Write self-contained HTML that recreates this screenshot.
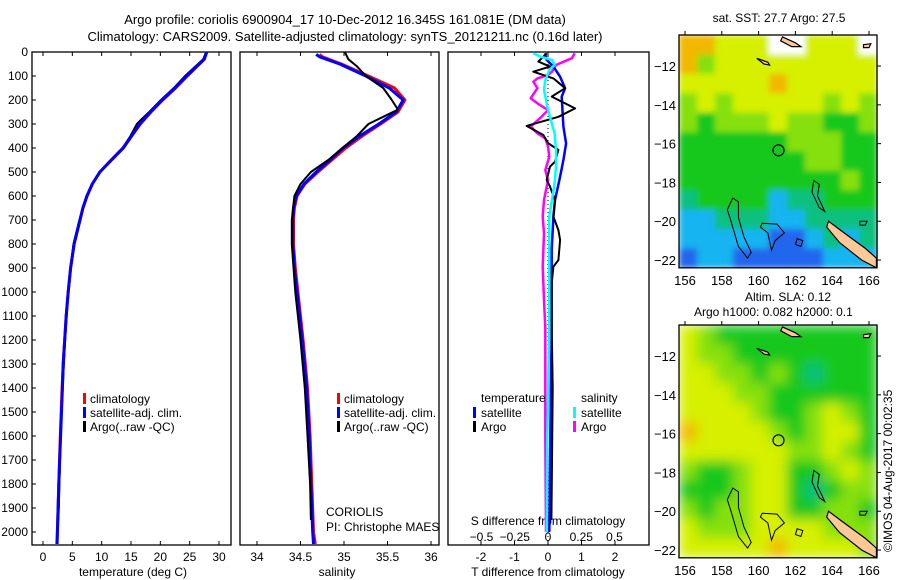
<!DOCTYPE html>
<html><head><meta charset="utf-8"><style>
body{margin:0;background:#fff;}
svg{display:block;font-family:"Liberation Sans",sans-serif;font-size:12px;}
</style></head><body>
<svg id="c" width="900" height="580" viewBox="0 0 900 580">
<defs>
<filter id="blurS" x="0" y="0" width="1" height="1"><feGaussianBlur stdDeviation="3" edgeMode="duplicate"/></filter>
<filter id="blurL" x="0" y="0" width="1" height="1"><feGaussianBlur stdDeviation="6" edgeMode="duplicate"/></filter>
</defs>
<text x="345" y="24" text-anchor="middle" font-size="13">Argo profile: coriolis 6900904_17 10-Dec-2012 16.345S 161.081E (DM data)</text>
<text x="345" y="41" text-anchor="middle" font-size="13">Climatology: CARS2009. Satellite-adjusted climatology: synTS_20121211.nc (0.16d later)</text>
<text x="779" y="22" text-anchor="middle">sat. SST: 27.7 Argo: 27.5</text>
<text x="745" y="301">Altim. SLA: 0.12</text>
<text x="694" y="316">Argo h1000: 0.082 h2000: 0.1</text>
<text transform="translate(892,552) rotate(-90)">©IMOS 04-Aug-2017 00:02:35</text>
</svg>
<script>
// ---------- data ----------
const tDepth=[0,30,100,150,200,250,300,350,400,450,500,550,600,650,700,800,900,1000,1100,1200,1300,1400,1600,1800,2000,2050];
const tClim=[27.9,27.5,24.6,22.6,20.4,18.4,16.6,15.1,13.6,11.6,9.7,8.4,7.5,6.8,6.3,5.3,4.7,4.3,3.95,3.7,3.45,3.25,2.95,2.7,2.45,2.35];
const tSat=[27.9,27.5,24.5,22.5,20.3,18.3,16.5,15.1,13.7,11.7,9.7,8.4,7.5,6.8,6.3,5.3,4.7,4.3,3.95,3.7,3.45,3.3,3.0,2.7,2.45,2.4];
const tArgoDepth=[0,30,100,150,200,250,280,300,350,400,450,500,550,600,700,800,1000,1200,1400,1600,1800,1900,1950];
const tArgo=[27.8,27.3,24.2,22.3,20.1,18.1,16.8,16.0,14.9,13.6,11.6,9.6,8.4,7.4,6.2,5.2,4.3,3.75,3.35,3.0,2.8,2.7,2.6];
const sDepth=[10,20,50,100,150,200,250,300,350,400,450,500,550,600,650,700,800,900,1000,1200,1400,1600,1800,2000,2050];
const sClim=[34.72,34.75,34.97,35.28,35.58,35.70,35.62,35.42,35.21,35.02,34.86,34.70,34.55,34.46,34.43,34.42,34.42,34.44,34.47,34.53,34.58,34.61,34.63,34.65,34.67];
const sSat=[34.68,34.72,34.95,35.25,35.52,35.68,35.60,35.40,35.18,34.99,34.84,34.68,34.54,34.45,34.42,34.41,34.41,34.43,34.46,34.52,34.57,34.60,34.62,34.64,34.65];
const sArgoDepth=[0,30,60,100,150,200,240,270,300,350,400,450,500,550,600,700,800,1000,1200,1400,1600,1800,1950];
const sArgo=[35.01,35.05,35.15,35.25,35.45,35.55,35.62,35.45,35.28,35.15,34.98,34.82,34.62,34.50,34.43,34.40,34.40,34.44,34.50,34.55,34.58,34.61,34.62];
// difference panel
const dTsatDepth=[6,33,61,103,151,186,311,381,450,519,617,686,825,1151,1600,2000];
const dTsat=[-0.09,-0.04,0.16,0.36,0.51,0.41,0.46,0.54,0.46,0.36,0.21,0.16,0.11,0.11,0.07,0.04];
const dTargoDepth=[6,40,61,82,110,151,186,235,270,308,346,381,408,457,478,533,561,617,686,742,783,867,894,964,1144,1400,1700,1950];
const dTargo=[-0.04,-0.29,0.06,-0.44,0.16,0.51,0.11,0.81,0.31,-0.64,-0.14,0.01,0.31,0.21,0.06,-0.04,0.06,0.21,0.16,0.31,0.36,0.31,0.16,0.11,0.11,0.14,0.12,0.1];
const dSsatDepth=[6,19,33,54,75,117,158,242,339,408,478,547,686,894,1151,1600,2000];
const dSsat=[-0.11,-0.06,0.03,0.05,0.01,-0.02,-0.03,0,0.05,0.06,0.06,0.05,0.01,0.01,0.01,-0.005,-0.01];
const dSargoDepth=[6,26,54,82,96,110,124,151,193,214,242,276,311,339,360,394,436,492,533,617,686,756,894,1033,1151,1600,2000];
const dSargo=[0.20,0.18,0.06,0.03,0,-0.08,-0.11,-0.08,-0.13,-0.08,0,-0.06,-0.13,-0.08,-0.02,0,0.01,-0.02,0,-0.03,-0.04,-0.03,-0.04,-0.03,-0.02,-0.02,-0.015];
const depthTicks=[0,100,200,300,400,500,600,700,800,900,1000,1100,1200,1300,1400,1500,1600,1700,1800,1900,2000];
const tTicks=[0,5,10,15,20,25,30];
const sTicks=[34,34.5,35,35.5,36];
const dTTicks=[-2,-1,0,1,2];
const dSTicks=[-0.5,-0.25,0,0.25,0.5];
const lonTicks=[156,158,160,162,164,166];
const latTicks=[-12,-14,-16,-18,-20,-22];
// map grids (color level 0 blue .. 6 orange, -1 = no data)
const sstGrid=[
[6,6,5,5,5,-1,-1,5,5,5,-1],
[6,4,5,5,5,5,5,5,5,5,5],
[5,5,5,5,5,6,5,5,5,5,5],
[4,5,4,5,5,5,5,5,4,5,4],
[4,3,4,4,4,5,4,4,3,3,4],
[3,3,3,3,3,3,4,4,4,3,3],
[3,3,3,3,3,3,3,4,4,3,3],
[3,3,3,3,3,3,3,3,3,4,3],
[2,3,3,3,3,1,2,2,3,3,3],
[1,1,2,2,2,1,1,2,2,2,2],
[1,1,1,1,1,0,0,1,2,1,2],
[0,1,1,0,0,0,0,0,1,1,1]];
const slaGrid=[
[5,4,3,3,3,3,3,3,3,3,3],
[5,4,4,3,3,3,3,3,3,3,3],
[5,5,4,4,3,4,3,2,3,3,3],
[5,5,5,4,4,3,3,3,3,3,3],
[5,5,5,5,4,3,3,4,5,4,3],
[6,5,5,5,5,4,3,4,5,5,3],
[5,5,5,5,5,5,4,4,5,4,3],
[4,3,3,4,5,5,3,3,4,5,4],
[3,3,3,4,5,5,3,2,3,4,4],
[4,3,4,4,5,5,3,3,4,4,3],
[5,4,4,4,5,5,5,5,4,4,4],
[5,5,5,5,5,6,5,5,5,5,4]];
const palette=['#2266ee','#18b4f0','#10c080','#12c81a','#86e010','#d6f000','#f2b800'];
const argoLon=161.081, argoLat=-16.345;

// ---------- helpers ----------
const NS='http://www.w3.org/2000/svg';
const svg=document.getElementById('c');
function mk(tag,attrs,parent){const e=document.createElementNS(NS,tag);for(const k in attrs)e.setAttribute(k,attrs[k]);(parent||svg).appendChild(e);return e;}
const yD=d=>52+d*0.24;
const xT=v=>43+v*5.867;
const xS=v=>257+(v-34)*87;
const xDT=v=>548+v*33.5;
const xDS=v=>548+v*133;
function line(xs,ds,fx,color,w,name){
  const pts=xs.map((v,i)=>fx(v).toFixed(1)+','+yD(ds[i]).toFixed(1)).join(' ');
  const p=mk('polyline',{points:pts,fill:'none',stroke:color,'stroke-width':w,'stroke-linejoin':'round'});
  
  
}
function frame(x0,x1,name){
  const r=mk('rect',{x:x0,y:52,width:x1-x0,height:493,fill:'none',stroke:'#000','stroke-width':1.3});
  
  
}
function txt(x,y,s,anchor,name,size,parent){
  const t=mk('text',{x:x,y:y,'text-anchor':anchor||'start'},parent);
  if(size)t.setAttribute('font-size',size);
  t.textContent=s;
  
  
  return t;
}

// ---------- panel 1: temperature ----------
frame(32,231,'temperature-panel');
depthTicks.forEach(d=>{
  mk('line',{x1:32,x2:36,y1:yD(d),y2:yD(d),stroke:'#000'});
  txt(28,yD(d)+4,String(d),'end','depth-tick-label');
});
tTicks.forEach(v=>{
  mk('line',{x1:xT(v),x2:xT(v),y1:545,y2:541,stroke:'#000'});
  mk('line',{x1:xT(v),x2:xT(v),y1:52,y2:56,stroke:'#000'});
  txt(xT(v),561,String(v),'middle','temperature-tick-label');
});
txt(133,576,'temperature (deg C)','middle','temperature-axis-title');
line(tClim,tDepth,xT,'#ff0000',3,'temperature-climatology-line');
line(tArgo,tArgoDepth,xT,'#000000',2,'temperature-argo-line');
line(tSat,tDepth,xT,'#0000ff',3,'temperature-satellite-line');
[['#ff0000','climatology'],['#0000ff','satellite-adj. clim.'],['#000000','Argo(..raw -QC)']].forEach((e,i)=>{
  mk('rect',{x:83,y:393+i*14,width:3,height:11,fill:e[0]});
  txt(90,403+i*14,e[1],'start','temperature-legend-entry');
});

// ---------- panel 2: salinity ----------
frame(240,439,'salinity-panel');
sTicks.forEach(v=>{
  mk('line',{x1:xS(v),x2:xS(v),y1:545,y2:541,stroke:'#000'});
  mk('line',{x1:xS(v),x2:xS(v),y1:52,y2:56,stroke:'#000'});
  txt(xS(v),561,String(v),'middle','salinity-tick-label');
});
txt(337,576,'salinity','middle','salinity-axis-title');
line(sClim,sDepth,xS,'#ff0000',3,'salinity-climatology-line');
line(sSat,sDepth,xS,'#0000ff',3,'salinity-satellite-line');
line(sArgo,sArgoDepth,xS,'#000000',2,'salinity-argo-line');
[['#ff0000','climatology'],['#0000ff','satellite-adj. clim.'],['#000000','Argo(..raw -QC)']].forEach((e,i)=>{
  mk('rect',{x:337,y:393+i*14,width:3,height:11,fill:e[0]});
  txt(344,403+i*14,e[1],'start','salinity-legend-entry');
});
txt(326,516,'CORIOLIS','start','data-centre-label');
txt(326,531,'PI: Christophe MAES','start','pi-label');

// ---------- panel 3: differences ----------
frame(448,649,'difference-panel');
mk('line',{x1:548,x2:548,y1:52,y2:545,stroke:'#000','stroke-dasharray':'1,3'});
dTTicks.forEach(v=>{
  mk('line',{x1:xDT(v),x2:xDT(v),y1:545,y2:541,stroke:'#000'});
  mk('line',{x1:xDT(v),x2:xDT(v),y1:52,y2:56,stroke:'#000'});
  txt(xDT(v),561,String(v),'middle','t-difference-tick-label');
});
dSTicks.forEach(v=>{
  txt(xDS(v),541,String(v).replace('-','\u2212'),'middle','s-difference-tick-label');
});
txt(548,525,'S difference from climatology','middle','s-difference-axis-title');
txt(548,576,'T difference from climatology','middle','t-difference-axis-title');
line(dSargo,dSargoDepth,xDS,'#ff00ff',2.5,'salinity-argo-difference-line');
line(dTsat,dTsatDepth,xDT,'#0000ff',2.5,'temperature-satellite-difference-line');
line(dTargo,dTargoDepth,xDT,'#000000',2,'temperature-argo-difference-line');
line(dSsat,dSsatDepth,xDS,'#00ffff',2.5,'salinity-satellite-difference-line');
txt(481,402,'temperature','start','legend-temperature-heading');
txt(581,402,'salinity','start','legend-salinity-heading');
[[473,'#0000ff','satellite',0],[473,'#000000','Argo',1],[573,'#00ffff','satellite',0],[573,'#ff00ff','Argo',1]].forEach(e=>{
  mk('rect',{x:e[0],y:407+e[3]*14,width:3,height:11,fill:e[1]});
  txt(e[0]+8,417+e[3]*14,e[2],'start','difference-legend-entry');
});

// ---------- maps ----------
function drawMap(grid,top,name,filterId){
  const x0=679,x1=877,y0=top,latTop=-10.4;
  const mx=lon=>685+(lon-156)*18.4;
  const my=lat=>y0+(latTop-lat)*19.4;
  const g=mk('g',{});
  
  
  const rows=grid.length,cols=grid[0].length;
  const cw=(x1-x0)/cols,ch=(my(-22.4)-y0)/rows;
  const cellsG=mk('g',{filter:'url(#'+filterId+')'},g);
  
  
  grid.forEach((row,r)=>row.forEach((v,c)=>{
    const cell=mk('rect',{x:(x0+c*cw).toFixed(1),y:(y0+r*ch).toFixed(1),width:(cw+0.6).toFixed(1),height:(ch+0.6).toFixed(1),fill:v<0?'#ffffff':palette[v]},cellsG);
    
    
  }));
  const P=a=>a.map(p=>mx(p[0]).toFixed(1)+','+my(p[1]).toFixed(1)).join(' ');
  const outlines=[
    [[158.6,-18.8],[158.9,-19],[158.9,-19.8],[159.2,-20.8],[159.6,-21.6],[159.4,-21.9],[158.9,-21.3],[158.5,-20],[158.3,-19.4]],
    [[160.2,-20.1],[161,-20.15],[161.4,-20.6],[160.9,-21],[160.7,-21.5],[160.5,-20.6],[160.1,-20.3]],
    [[163,-17.9],[163.3,-18.1],[163.2,-18.7],[163.6,-19.5],[163.3,-19.3],[162.9,-18.5]],
    [[162.1,-20.9],[162.4,-21],[162.3,-21.3],[162,-21.2]],
    [[165.5,-20],[165.9,-20],[165.8,-20.2],[165.5,-20.2]]
  ];
  outlines.forEach(o=>{const p=mk('polygon',{points:P(o),fill:'none',stroke:'#000','stroke-width':1},g);});
  const land=[
    [[163.8,-20],[164.5,-20.5],[165.8,-21.4],[166.4,-21.9],[166.4,-22.4],[165.6,-22],[164.4,-21.1],[163.7,-20.3]],
    [[161.3,-10.5],[162,-10.8],[162.3,-11],[161.8,-11],[161.2,-10.7]],
    [[159.9,-11.6],[160.5,-11.8],[160.6,-11.95],[160.3,-11.9]],
    [[165.7,-10.9],[166.1,-10.85],[166,-11.05],[165.7,-11.05]]
  ];
  land.forEach(o=>{const p=mk('polygon',{points:P(o),fill:'#ffc896',stroke:'#000','stroke-width':1.2},g);});
  const c=mk('circle',{cx:mx(argoLon),cy:my(argoLat),r:5.5,fill:'none',stroke:'#000','stroke-width':1.2},g);
  
  
  mk('rect',{x:x0,y:y0,width:x1-x0,height:my(-22.4)-y0,fill:'none',stroke:'#000','stroke-width':1.3},g);
  lonTicks.forEach(l=>{
    mk('line',{x1:mx(l),x2:mx(l),y1:y0,y2:y0-4,stroke:'#000'},g);
    txt(mx(l),my(-22.4)+17,String(l),'middle','longitude-tick-label',13,g);
  });
  latTicks.forEach(l=>{
    mk('line',{x1:x1,x2:x1+4,y1:my(l),y2:my(l),stroke:'#000'},g);
    txt(676,my(l)+5,String(l).replace('-','\u2212'),'end','latitude-tick-label',13,g);
  });
}
drawMap(sstGrid,35,'sst-map','blurS');
drawMap(slaGrid,325,'sla-map','blurL');
</script>
</body></html>
